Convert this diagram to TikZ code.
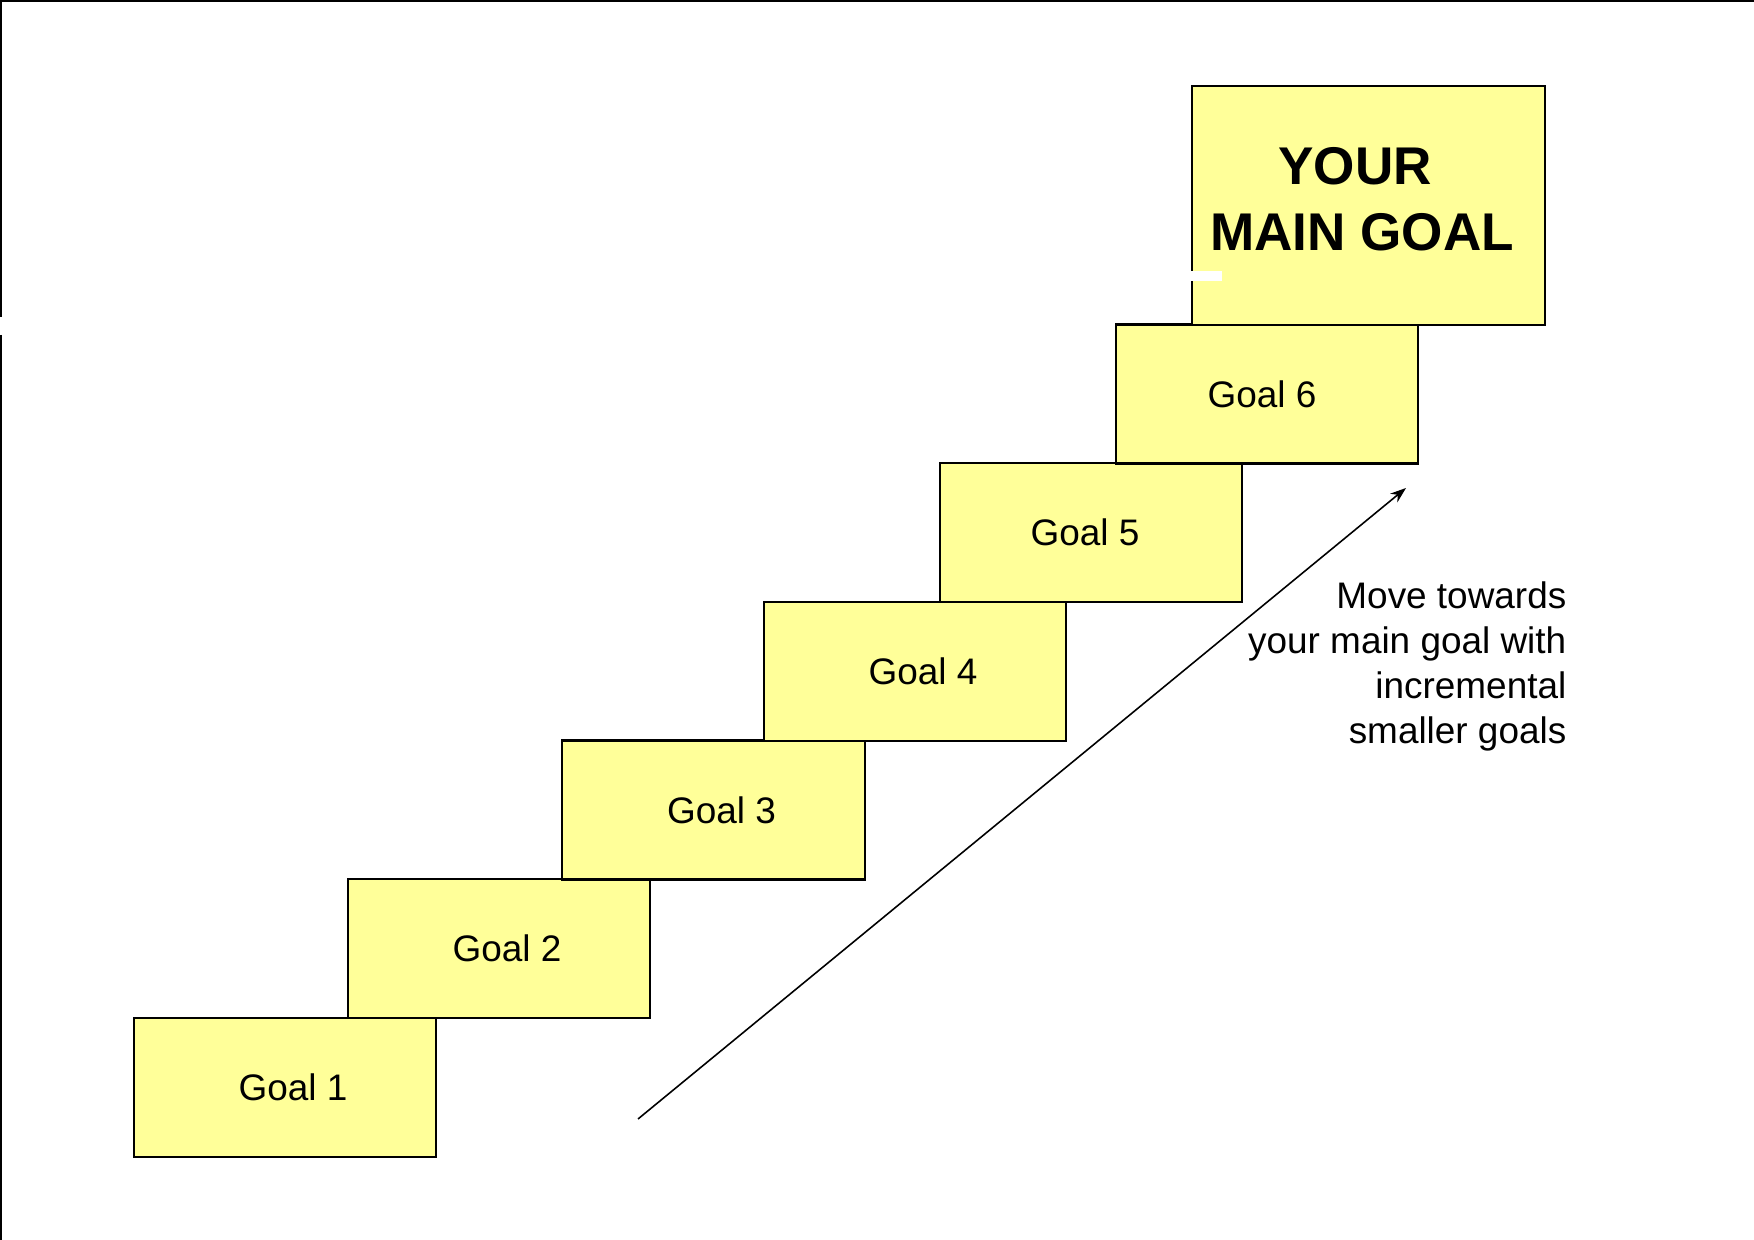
\documentclass[tikz,border=0pt]{standalone}
\usepackage{fontspec}
\setmainfont{Liberation Sans}
\usetikzlibrary{arrows.meta}
\definecolor{goalyellow}{HTML}{FFFF99}

\begin{document}
\begin{tikzpicture}[x=0.01cm, y=-0.01cm,
    goal/.style={draw, line width=0.6pt, fill=goalyellow, minimum width=3.02cm,
        minimum height=1.39cm, inner sep=0pt, outer sep=0pt,
        font=\fontsize{10.5}{12.6}\selectfont}]
    \useasboundingbox (0,0) rectangle (1754,1240);
    % Define frame edges
    \draw[line width=0.6pt] (0,1) -- (1754,1);
    \draw[line width=0.6pt] (1,0) -- (1,317) (1,335) -- (1,1240);

    % Define steps
    \node[goal] (g1) at (285,1087.5) {\hspace*{0.16cm}Goal 1};
    \node[goal] (g2) at (499,948.5) {\hspace*{0.16cm}Goal 2};
    \node[goal] (g3) at (713.5,810) {\hspace*{0.16cm}Goal 3};
    \node[goal] (g4) at (915,671.5) {\hspace*{0.16cm}Goal 4};
    \node[goal] (g5) at (1091,532.5) {Goal 5\hspace*{0.12cm}};
    \node[goal] (g6) at (1267,394) {Goal 6\hspace*{0.1cm}};
    \node[goal, minimum width=3.53cm, minimum height=2.39cm] (main) at (1368.5,205.5) {};
    \node[font=\fontsize{15.1}{18.8}\selectfont\bfseries, align=center] (title) at (1362,199)
        {YOUR\hspace*{0.14cm}\\MAIN GOAL};
    \fill[white] (1185,271) rectangle (1222,281);

    % Define arrow and note
    \coordinate (start) at (638,1119);
    \coordinate (tip) at (1406,488);
    \draw[line width=0.45pt, -{Stealth[length=4.5pt, width=3.2pt]}] (start) -- (tip);
    \node[font=\fontsize{10.5}{12.8}\selectfont, align=right, anchor=east, inner sep=0pt] (note) at (1567,666)
        {Move towards\\your main goal with\\incremental\\smaller goals};
\end{tikzpicture}
\end{document}
